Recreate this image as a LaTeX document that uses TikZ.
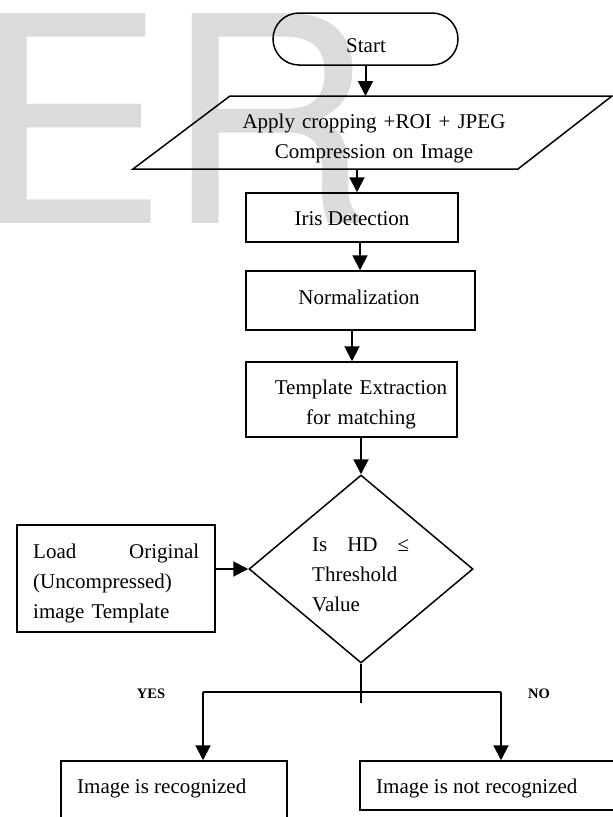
\documentclass[tikz,border=0pt]{standalone}
\usepackage{fontspec}
\setmainfont{Liberation Serif}
\newfontfamily\wmfont{TeX Gyre Heros}
\usetikzlibrary{arrows.meta,shapes.geometric}
\begin{document}
\begin{tikzpicture}[x=1pt,y=-1pt,
  wm/.style={text=black!14, inner sep=0pt, font=\wmfont\fontsize{288}{288}\selectfont},
  shapeline/.style={draw=black, line width=1.5pt},
  box/.style={shapeline, rectangle, inner sep=0pt},
  lbl/.style={inner sep=0pt, font=\fontsize{21}{30}\selectfont},
  tag/.style={inner sep=0pt, font=\bfseries\fontsize{14.5}{18}\selectfont},
  arr/.style={line width=2pt, -{Triangle[length=15pt,width=15pt]}},
  plain/.style={line width=1.6pt}]
\useasboundingbox (0,0) rectangle (613,817);

% watermark
\node[wm, anchor=base west] (wmE) at (-26,223) {E};
\node[wm, anchor=base west] (wmR) at (165,223) {R};

% start
\node[box, rounded corners=26pt, minimum width=185pt, minimum height=52pt] (start) at (365.5,39) {};
\node[lbl, anchor=base] (starttxt) at (366,52) {Start};

% parallelogram
\coordinate (p1) at (230,96);
\coordinate (p2) at (612,96);
\coordinate (p3) at (518,169);
\coordinate (p4) at (133,169);
\draw[shapeline, line join=miter] (p1) -- (p2) -- (p3) -- (p4) -- cycle;
\node[lbl, anchor=base, text width=300pt, align=center] (apply) at (374,128.5) {Apply cropping +ROI + JPEG\\Compression on Image};
\coordinate (pb) at (357,169);

% process boxes
\node[box, minimum width=212pt, minimum height=49pt] (iris) at (352,217.5) {};
\node[lbl, anchor=base] (iristxt) at (352,225) {Iris Detection};

\node[box, minimum width=229pt, minimum height=59pt] (norm) at (360.5,300.5) {};
\node[lbl, anchor=base] (normtxt) at (359,304) {Normalization};

\node[box, minimum width=211pt, minimum height=75pt] (templ) at (351.5,399.5) {};
\node[lbl, anchor=base, text width=211pt, align=center] (templtxt) at (361,394) {Template Extraction\\for matching};

% decision
\node[shapeline, diamond, minimum width=224pt, minimum height=188pt, inner sep=0pt] (dec) at (361,569) {};
\node[lbl, anchor=base west, text width=97pt, align=left] (dectxt) at (312,551) {Is\hfill HD\hfill ≤\\Threshold\\Value};

% load template
\node[box, minimum width=198pt, minimum height=107pt] (load) at (116,578.5) {};
\node[lbl, anchor=base west, text width=166pt, align=left] (loadtxt) at (33,558) {Load\hfill Original\\(Uncompressed)\\image Template};

% results
\node[box, minimum width=226pt, minimum height=74pt] (recog) at (174,798) {};
\node[lbl, anchor=base west] (recogtxt) at (77,793) {Image is recognized};
\node[box, minimum width=270pt, minimum height=49pt] (notrec) at (495,785.5) {};
\node[lbl, anchor=base west] (notrectxt) at (376,793) {Image is not recognized};

\node[tag, anchor=base] (yes) at (151,698.5) {YES};
\node[tag, anchor=base] (no) at (539,698.5) {NO};

% connectors
\draw[arr] (start.south) -- (start.south |- p1);
\draw[arr] (pb) -- (pb |- iris.north);
\draw[arr] ([xshift=8pt]iris.south) -- ([xshift=8pt]iris.south |- norm.north);
\draw[arr] ([xshift=-8.5pt]norm.south) -- ([xshift=-8.5pt]norm.south |- templ.north);
\draw[arr] (dec.north |- templ.south) -- (dec.north);
\draw[arr] (load.east |- dec.west) -- (dec.west);

\coordinate (jb) at (361,703);
\coordinate (yl) at (203,692);
\coordinate (nr) at (501,692);
\draw[plain] (dec.south) -- (jb);
\draw[plain, line join=miter] (yl) -- (nr);
\draw[arr] (yl) -- (yl |- recog.north);
\draw[arr] (nr) -- (nr |- notrec.north);
\end{tikzpicture}
\end{document}
